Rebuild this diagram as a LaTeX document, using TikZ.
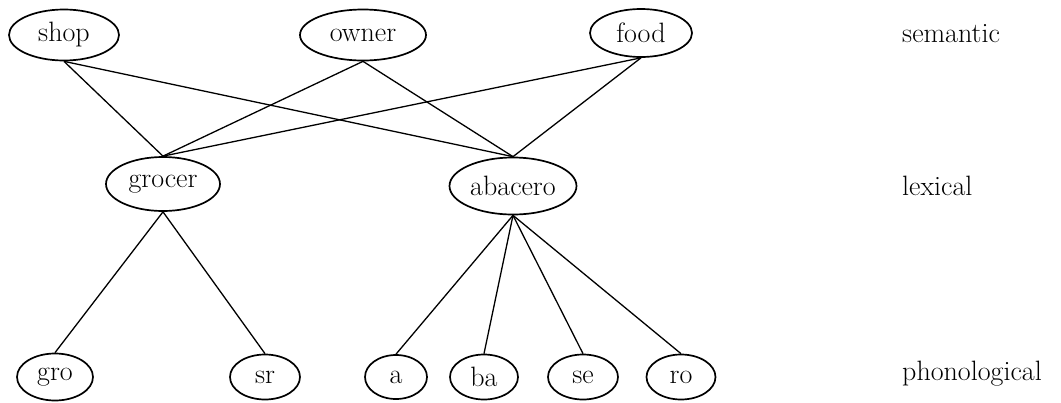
\documentclass[tikz,border=0pt]{standalone}
\usetikzlibrary{shapes.geometric}
\begin{document}
\begin{tikzpicture}[x=1pt,y=-1pt,
  every node/.style={font=\fontsize{28pt}{33pt}\selectfont},
  word/.style={draw, ellipse, inner sep=0pt, line width=1.7pt},
  link/.style={line width=1.3pt},
  level/.style={anchor=base west, inner sep=0pt}]
\useasboundingbox (0,0) rectangle (1061,402);
% semantic
\node[word, minimum width=110, minimum height=51] (shop) at (64,35) {shop};
\node[word, minimum width=126, minimum height=51] (owner) at (363,35) {owner};
\node[word, minimum width=102, minimum height=48] (food) at (641,33) {food};
% lexical
\node[word, minimum width=114, minimum height=54] (grocer) at (163,184) {grocer};
\node[word, minimum width=127, minimum height=57] (abacero) at (513,186) {abacero};
% phonological
\node[word, minimum width=76, minimum height=47] (gro) at (55,377) {gro};
\node[word, minimum width=70, minimum height=45] (sr) at (265,377) {sr};
\node[word, minimum width=62, minimum height=44] (a) at (396,377) {a};
\node[word, minimum width=68, minimum height=45] (ba) at (484,377) {ba};
\node[word, minimum width=70, minimum height=45] (se) at (583,377) {se};
\node[word, minimum width=69, minimum height=45] (ro) at (681,377) {ro};
% levels
\node[level] (sem) at (902,42) {semantic};
\node[level] (lex) at (902,195) {lexical};
\node[level] (pho) at (902,380) {phonological};
% connectors
\draw[link] (shop.south) -- (grocer.north);
\draw[link] (shop.south) -- (abacero.north);
\draw[link] (owner.south) -- (grocer.north);
\draw[link] (owner.south) -- (abacero.north);
\draw[link] (food.south) -- (grocer.north);
\draw[link] (food.south) -- (abacero.north);
\draw[link] (grocer.south) -- (gro.north);
\draw[link] (grocer.south) -- (sr.north);
\draw[link] (abacero.south) -- (a.north);
\draw[link] (abacero.south) -- (ba.north);
\draw[link] (abacero.south) -- (se.north);
\draw[link] (abacero.south) -- (ro.north);
\end{tikzpicture}
\end{document}
